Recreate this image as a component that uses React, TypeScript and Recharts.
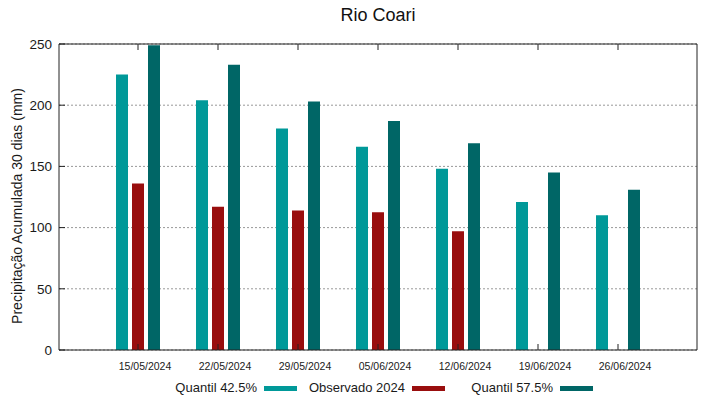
import React from "react";
import { BarChart, Bar, XAxis, YAxis, CartesianGrid } from "recharts";

const dates = ["15/05/2024", "22/05/2024", "29/05/2024", "05/06/2024", "12/06/2024", "19/06/2024", "26/06/2024"];
const quantil425 = [225, 204, 181, 166, 148, 121, 110];
const observado = [136, 117, 114, 112.5, 97, null, null];
const quantil575 = [249, 233, 203, 187, 169, 145, 131];
const yTicks = [0, 50, 100, 150, 200, 250];

const seriesNames = ["Quantil 42.5%", "Observado 2024", "Quantil 57.5%"];
const seriesColors = ["#009999", "#990e0e", "#006666"];

const data = dates.map((d, i) => ({
  date: d,
  q425: quantil425[i],
  obs: observado[i],
  q575: quantil575[i],
}));

const FONT = "'Liberation Sans', Arial, sans-serif";
const AX = "#222";

const XTick = (props: any) => {
  const { x, y, payload } = props;
  return (
    <text x={x + 7} y={y + 6} textAnchor="middle" fontSize={10.5} fill="#1a1a1a" fontFamily={FONT}>
      {payload.value}
    </text>
  );
};

const YLabel = (props: any) => {
  const vb = props.viewBox || { y: 44, height: 306 };
  const cy = vb.y + vb.height / 2 + 9;
  return (
    <text
      x={16.5}
      y={cy}
      transform={`rotate(-90 16.5 ${cy})`}
      textAnchor="middle"
      dominantBaseline="central"
      fontSize={14}
      fill="#1a1a1a"
      fontFamily={FONT}
    >
      Precipitação Acumulada 30 dias (mm)
    </text>
  );
};

export default function App() {
  return (
    <div style={{ position: "absolute", left: 0, top: 0, width: 719, height: 399, fontFamily: FONT, background: "#fff" }}>
      <div
        style={{
          position: "absolute",
          left: 59,
          width: 638,
          top: 4,
          textAlign: "center",
          fontSize: 18,
          lineHeight: "22px",
          color: "#111",
        }}
      >
        Rio Coari
      </div>
      <BarChart
        width={719}
        height={399}
        data={data}
        margin={{ top: 43, right: 21, bottom: 19, left: 0 }}
        barSize={12}
        barGap={4}
      >
        <CartesianGrid vertical={false} stroke="#999" strokeDasharray="2 2" />
        <XAxis
          dataKey="date"
          type="category"
          height={30}
          padding={{ left: 39, right: 39 }}
          tickSize={-6}
          tickMargin={20}
          tick={<XTick />}
          axisLine={{ stroke: AX }}
          tickLine={{ stroke: AX }}
          interval={0}
        />
        <XAxis
          xAxisId="top"
          dataKey="date"
          type="category"
          orientation="top"
          height={1}
          padding={{ left: 39, right: 39 }}
          tickSize={-6}
          tickFormatter={() => ""}
          axisLine={{ stroke: AX }}
          tickLine={{ stroke: AX }}
          interval={0}
        />
        <YAxis
          type="number"
          width={59}
          domain={[0, 250]}
          ticks={yTicks}
          tickSize={-6}
          tickMargin={13}
          tick={{ fontSize: 13.5, fill: "#1a1a1a", fontFamily: FONT }}
          axisLine={{ stroke: AX }}
          tickLine={{ stroke: AX }}
          label={<YLabel />}
        />
        <YAxis
          yAxisId="right"
          orientation="right"
          type="number"
          width={1}
          domain={[0, 250]}
          ticks={yTicks}
          tickSize={-6}
          tickFormatter={() => ""}
          axisLine={{ stroke: AX }}
          tickLine={{ stroke: AX }}
        />
        <Bar dataKey="q425" name={seriesNames[0]} fill={seriesColors[0]} isAnimationActive={false} />
        <Bar dataKey="obs" name={seriesNames[1]} fill={seriesColors[1]} isAnimationActive={false} />
        <Bar dataKey="q575" name={seriesNames[2]} fill={seriesColors[2]} isAnimationActive={false} />
      </BarChart>
      {seriesNames.map((n, i) => (
        <div key={n} style={{ position: "absolute", left: 116 + 148 * i, top: 379, width: 181, height: 18 }}>
          <div
            style={{
              position: "absolute",
              left: 0,
              width: 141,
              textAlign: "right",
              fontSize: 13,
              lineHeight: "18px",
              color: "#1a1a1a",
              whiteSpace: "nowrap",
            }}
          >
            {n}
          </div>
          <div style={{ position: "absolute", left: 148, top: 7, width: 33, height: 5, background: seriesColors[i] }} />
        </div>
      ))}
    </div>
  );
}
